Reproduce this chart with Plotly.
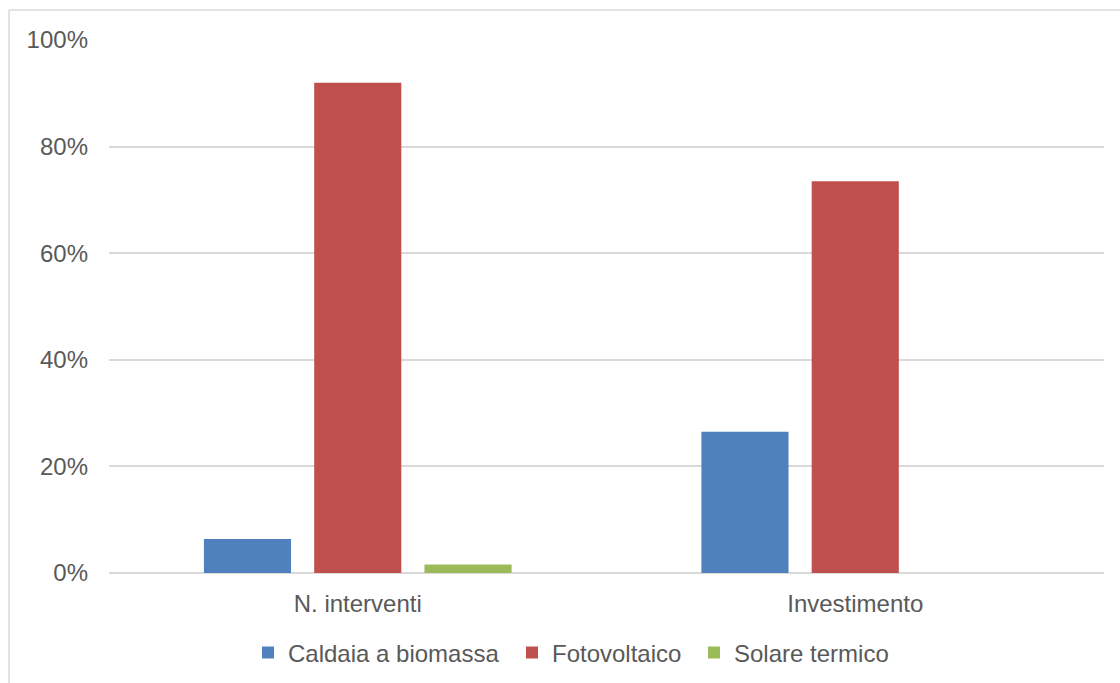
import plotly.graph_objects as go

# Share of interventions and of investment by technology
categories = ["N. interventi", "Investimento"]
series_names = ["Caldaia a biomassa", "Fotovoltaico", "Solare termico"]
caldaia = [0.064, 0.265]
fotovoltaico = [0.92, 0.735]
solare = [0.016, 0.0]
y_ticks = [0, 0.2, 0.4, 0.6, 0.8, 1.0]
y_tick_labels = ["0%", "20%", "40%", "60%", "80%", "100%"]

colors = ["#4F81BD", "#C0504D", "#9BBB59"]
font_family = "Liberation Sans, Arial, sans-serif"
text_color = "#595959"
grid_color = "#D9D9D9"
font_size = 24

W, H = 1120, 683
ml, mr, mt, mb = 109, 16, 40, 110
pw, ph = W - ml - mr, H - mt - mb

def px_to_paper_x(px):
    return (px - ml) / pw

def px_to_paper_y(py):
    return (H - mb - py) / ph

# each series gets its own legend box so the entries can be spaced freely
legend_ids = ["legend", "legend2", "legend3"]
legend_left_px = [248, 512, 694]
legend_mid_px = 653

fig = go.Figure()
for name, values, color, lid in zip(series_names, [caldaia, fotovoltaico, solare], colors, legend_ids):
    fig.add_trace(go.Bar(
        name=name,
        x=categories,
        y=values,
        marker=dict(color=color, line=dict(width=0)),
        legend=lid,
    ))

legend_layouts = {}
for lid, left in zip(legend_ids, legend_left_px):
    legend_layouts[lid] = dict(
        orientation="h",
        x=px_to_paper_x(left), xanchor="left",
        y=px_to_paper_y(legend_mid_px), yanchor="middle",
        font=dict(family=font_family, size=font_size, color=text_color),
        bgcolor="rgba(0,0,0,0)",
        borderwidth=0,
        itemwidth=30,
    )

# outer frame of the chart area (left and top edges)
frame_left, frame_top = 9, 10
fig.add_shape(type="line", xref="paper", yref="paper",
              x0=px_to_paper_x(frame_left), x1=px_to_paper_x(frame_left),
              y0=px_to_paper_y(frame_top), y1=px_to_paper_y(H + 5),
              line=dict(color=grid_color, width=1.5))
fig.add_shape(type="line", xref="paper", yref="paper",
              x0=px_to_paper_x(frame_left), x1=px_to_paper_x(W + 5),
              y0=px_to_paper_y(frame_top), y1=px_to_paper_y(frame_top),
              line=dict(color=grid_color, width=1.5))

fig.update_layout(
    width=W, height=H,
    margin=dict(l=ml, r=mr, t=mt, b=mb, autoexpand=False),
    paper_bgcolor="white",
    plot_bgcolor="white",
    barmode="group",
    bargap=0.335,
    bargroupgap=0.21,
    font=dict(family=font_family, size=font_size, color=text_color),
    showlegend=True,
    xaxis=dict(
        showgrid=False,
        showline=False,
        ticks="",
        ticklabelstandoff=14,
        tickfont=dict(size=font_size, color=text_color),
    ),
    yaxis=dict(
        range=[0, 1],
        tickvals=y_ticks,
        ticktext=y_tick_labels,
        showgrid=True,
        gridcolor=grid_color,
        gridwidth=2,
        zeroline=True,
        zerolinecolor=grid_color,
        zerolinewidth=2,
        showline=False,
        ticks="",
        ticklabelstandoff=20,
        tickfont=dict(size=font_size, color=text_color),
    ),
    **legend_layouts,
)

fig.write_html("out.html")
